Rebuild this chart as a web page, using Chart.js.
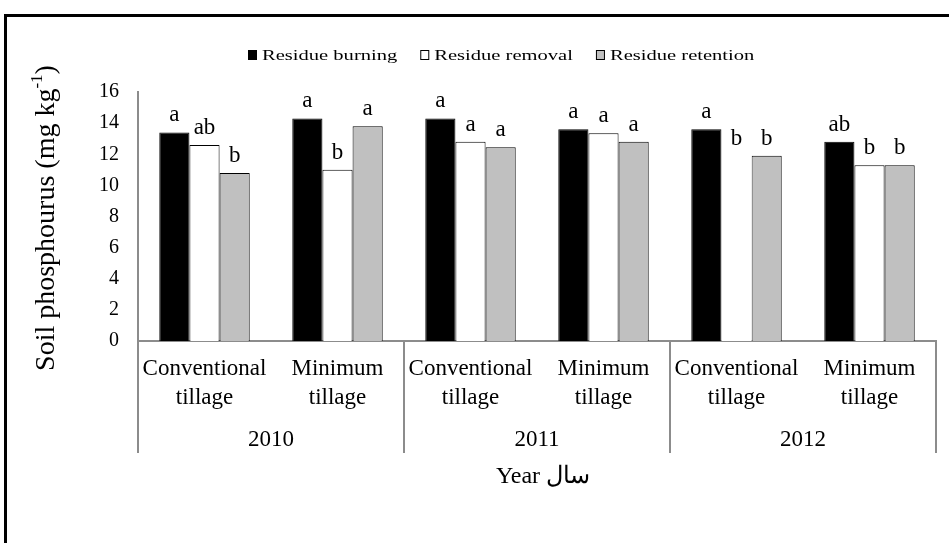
<!DOCTYPE html>
<html>
<head>
<meta charset="utf-8">
<script src="https://cdn.jsdelivr.net/npm/chart.js@4"></script>
<style>
  body { margin: 0; background: #fff; }
  canvas { display: block; }
</style>
</head>
<body>
<canvas id="soilChart" width="949" height="543"></canvas>
<script>
const categories = [
    ['Conventional', 'tillage'], ['Minimum', 'tillage'],
    ['Conventional', 'tillage'], ['Minimum', 'tillage'],
    ['Conventional', 'tillage'], ['Minimum', 'tillage']
];
const years = ['2010', '2011', '2012'];
const yTicks = [0, 2, 4, 6, 8, 10, 12, 14, 16];

const burning = [13.4, 14.3, 14.3, 13.6, 13.6, 12.8];
const removal = [12.6, 11.0, 12.8, 13.35, 11.9, 11.3];
const retention = [10.8, 13.8, 12.45, 12.8, 11.9, 11.3];

const burningLetters = ['a', 'a', 'a', 'a', 'a', 'ab'];
const removalLetters = ['ab', 'b', 'a', 'a', 'b', 'b'];
const retentionLetters = ['b', 'a', 'a', 'a', 'b', 'b'];

const serif = "'Liberation Serif', 'Times New Roman', serif";

// draws everything Chart.js has no option for: frame, legend, letters, year row, titles
const extras = {
    id: 'extras',
    afterDraw(chart) {
        const ctx = chart.ctx;
        const area = chart.chartArea;
        const x = chart.scales.x;

        ctx.save();
        ctx.fillStyle = '#000';

        // outer frame (top and left only are visible)
        ctx.fillRect(4, 14, 945, 3);
        ctx.fillRect(4, 14, 3, 529);

        // letters over bars
        const letters = [burningLetters, removalLetters, retentionLetters];
        ctx.font = '23px ' + serif;
        ctx.textAlign = 'center';
        ctx.textBaseline = 'alphabetic';
        chart.data.datasets.forEach((ds, i) => {
            chart.getDatasetMeta(i).data.forEach((bar, j) => {
                ctx.fillText(letters[i][j], bar.x, bar.y - 11);
            });
        });

        // year row with dividers
        const catW = (area.right - area.left) / categories.length;
        ctx.strokeStyle = '#8c8c8c';
        ctx.lineWidth = 2;
        for (let k = 0; k <= years.length; k++) {
            const px = Math.round(area.left + k * 2 * catW);
            ctx.beginPath();
            ctx.moveTo(px, area.bottom);
            ctx.lineTo(px, 453);
            ctx.stroke();
        }
        ctx.font = '23px ' + serif;
        ctx.textBaseline = 'middle';
        years.forEach((yr, k) => {
            const cx = (x.getPixelForValue(2 * k) + x.getPixelForValue(2 * k + 1)) / 2;
            ctx.fillText(yr, cx, 440);
        });

        // x title
        ctx.font = '24px ' + serif;
        ctx.fillText('Year سال', 543, 477);

        // legend
        ctx.font = '15px ' + serif;
        ctx.textAlign = 'left';
        let lx = 248;
        chart.data.datasets.forEach(ds => {
            ctx.fillStyle = ds.backgroundColor;
            ctx.fillRect(lx, 50, 9, 10);
            ctx.strokeStyle = '#000';
            ctx.lineWidth = 1;
            ctx.strokeRect(lx + 0.5, 50.5, 8, 9);
            ctx.fillStyle = '#000';
            const w = ctx.measureText(ds.label).width * 1.37;
            ctx.save();
            ctx.translate(lx + 14, 56);
            ctx.scale(1.37, 1);
            ctx.fillText(ds.label, 0, 0);
            ctx.restore();
            lx += 14 + w + 23;
        });

        // y title with superscript
        ctx.save();
        ctx.translate(54, 218);
        ctx.rotate(-Math.PI / 2);
        const mainFont = '28px ' + serif;
        const supFont = '17px ' + serif;
        const t1 = 'Soil phosphourus (mg kg';
        const t2 = '-1';
        const t3 = ')';
        ctx.font = mainFont;
        const w1 = ctx.measureText(t1).width;
        const w3 = ctx.measureText(t3).width;
        ctx.font = supFont;
        const w2 = ctx.measureText(t2).width;
        let tx = -(w1 + w2 + w3) / 2;
        ctx.textBaseline = 'alphabetic';
        ctx.font = mainFont;
        ctx.fillText(t1, tx, 0);
        tx += w1;
        ctx.font = supFont;
        ctx.fillText(t2, tx, -12);
        tx += w2;
        ctx.font = mainFont;
        ctx.fillText(t3, tx, 0);
        ctx.restore();

        ctx.restore();
    }
};

const ctx = document.getElementById('soilChart').getContext('2d');
const chart = new Chart(ctx, {
    type: 'bar',
    data: {
        labels: categories,
        datasets: [
            {
                label: 'Residue burning',
                data: burning,
                backgroundColor: '#000000',
                borderColor: '#000000',
                borderWidth: 1
            },
            {
                label: 'Residue removal',
                data: removal,
                backgroundColor: '#ffffff',
                borderColor: '#000000',
                borderWidth: [1, 1, 1, 1, 0, 1]
            },
            {
                label: 'Residue retention',
                data: retention,
                backgroundColor: '#c0c0c0',
                borderColor: '#000000',
                borderWidth: 1
            }
        ]
    },
    options: {
        responsive: false,
        animation: false,
        layout: {
            padding: { top: 92, right: 13, bottom: 0, left: 0 }
        },
        categoryPercentage: 0.68,
        barPercentage: 1.0,
        plugins: {
            legend: { display: false },
            tooltip: { enabled: false }
        },
        scales: {
            y: {
                min: 0,
                max: 16,
                afterBuildTicks: scale => {
                    scale.ticks = yTicks.map(v => ({ value: v }));
                },
                afterFit: scale => { scale.width = 138; },
                grid: { display: false, drawTicks: false },
                border: { display: true, color: '#8c8c8c', width: 2 },
                ticks: {
                    color: '#000',
                    padding: 19,
                    font: { family: serif, size: 20 }
                }
            },
            x: {
                afterFit: scale => { scale.height = 202; },
                grid: { display: false, drawTicks: false },
                border: { display: true, color: '#8c8c8c', width: 2 },
                ticks: {
                    color: '#000',
                    padding: 14,
                    maxRotation: 0,
                    autoSkip: false,
                    font: { family: serif, size: 23, lineHeight: 1.25 }
                }
            }
        }
    },
    plugins: [extras]
});
</script>
</body>
</html>
